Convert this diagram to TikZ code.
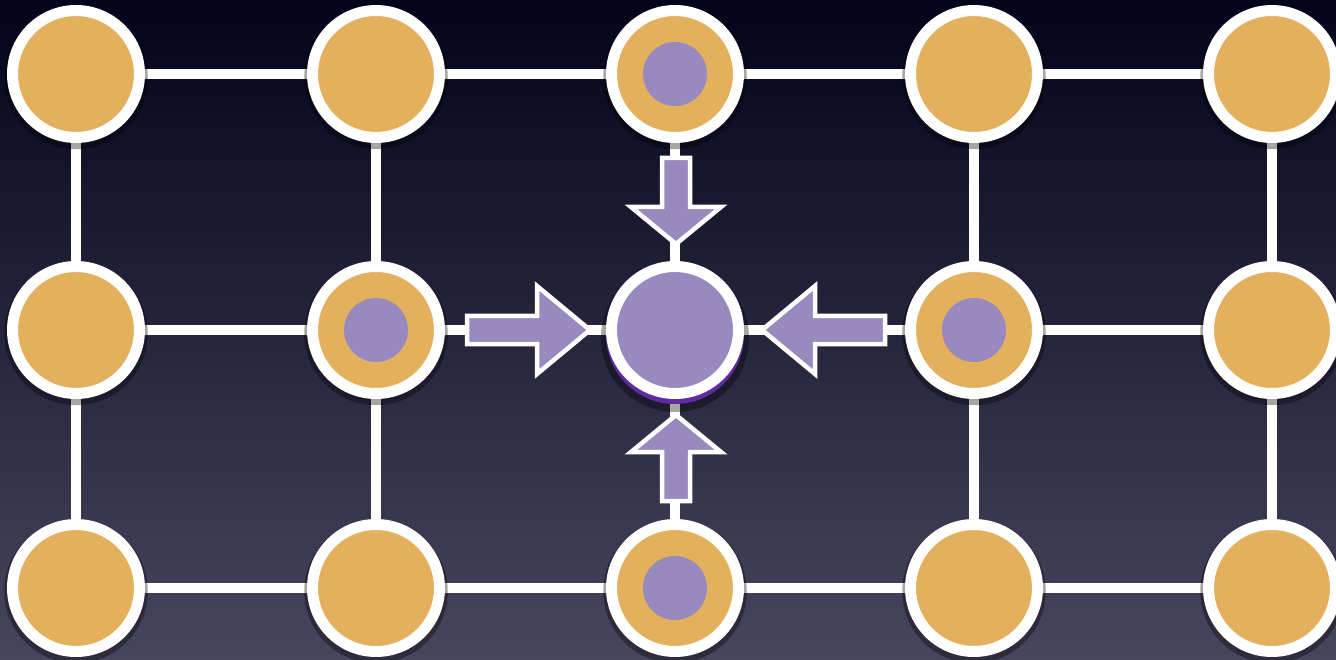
\documentclass[tikz,border=0pt]{standalone}
\usetikzlibrary{shadows,backgrounds}
\definecolor{bgtop}{RGB}{3,3,26}
\definecolor{bgmid}{RGB}{33,32,60}
\definecolor{bgbot}{RGB}{72,70,94}
\definecolor{gold}{RGB}{227,177,94}
\definecolor{lav}{RGB}{152,137,190}
\definecolor{deeppurple}{RGB}{96,42,162}
\begin{document}
\begin{tikzpicture}[x=1pt,y=-1pt,
  ringnode/.style={circle, draw=white, line width=11pt, fill=gold, minimum size=127pt, inner sep=0pt},
  gridnode/.style={ringnode,
    drop shadow={shadow scale=1.13, shadow xshift=0pt, shadow yshift=-3pt, opacity=0.35, fill=black}},
  marked/.style={path picture={\fill[lav] (path picture bounding box.center) circle (32);}},
  hub/.style={ringnode, fill=lav},
  edge/.style={draw=white, line width=10pt},
  arrowbox/.style={fill=lav, draw=white, line width=4.5pt, line join=miter}]
\useasboundingbox (0,0) rectangle (1336,660);
% nodes
\node[gridnode] (n11) at (76,74) {};
\node[gridnode] (n12) at (376,74) {};
\node[gridnode, marked] (n13) at (675,74) {};
\node[gridnode] (n14) at (974,74) {};
\node[gridnode] (n15) at (1272,74) {};
\node[gridnode] (n21) at (76,330) {};
\node[gridnode, marked] (n22) at (376,330) {};
\fill[black, opacity=0.35] (675,338) circle (74);
\fill[deeppurple] (675,335) circle (69);
\node[hub] (n23) at (675,330) {};
\node[gridnode, marked] (n24) at (974,330) {};
\node[gridnode] (n25) at (1272,330) {};
\node[gridnode] (n31) at (76,588) {};
\node[gridnode] (n32) at (376,588) {};
\node[gridnode, marked] (n33) at (675,588) {};
\node[gridnode] (n34) at (974,588) {};
\node[gridnode] (n35) at (1272,588) {};
\begin{scope}[on background layer]
  \shade[top color=bgtop, middle color=bgmid, bottom color=bgbot] (0,0) rectangle (1336,660);
  \foreach \r in {1,2,3}{
    \draw[edge] (n\r1) -- (n\r2);
    \draw[edge] (n\r2) -- (n\r3);
    \draw[edge] (n\r3) -- (n\r4);
    \draw[edge] (n\r4) -- (n\r5);
  }
  \foreach \c in {1,...,5}{
    \draw[edge] (n1\c) -- (n2\c);
    \draw[edge] (n2\c) -- (n3\c);
  }
\end{scope}
% arrows toward the hub
\begin{scope}[shift={(467,330)}]
  \draw[arrowbox] (0,-14) -- (70,-14) -- (70,-44) -- (123,0) -- (70,44) -- (70,14) -- (0,14) -- cycle;
\end{scope}
\begin{scope}[shift={(885,330)}, xscale=-1]
  \draw[arrowbox] (0,-14) -- (70,-14) -- (70,-44) -- (123,0) -- (70,44) -- (70,14) -- (0,14) -- cycle;
\end{scope}
\begin{scope}[shift={(676,158)}]
  \draw[arrowbox] (-14,0) -- (-14,49) -- (-45,49) -- (0,86) -- (45,49) -- (14,49) -- (14,0) -- cycle;
\end{scope}
\begin{scope}[shift={(676,501)}, yscale=-1]
  \draw[arrowbox] (-14,0) -- (-14,49) -- (-45,49) -- (0,86) -- (45,49) -- (14,49) -- (14,0) -- cycle;
\end{scope}
\end{tikzpicture}
\end{document}
